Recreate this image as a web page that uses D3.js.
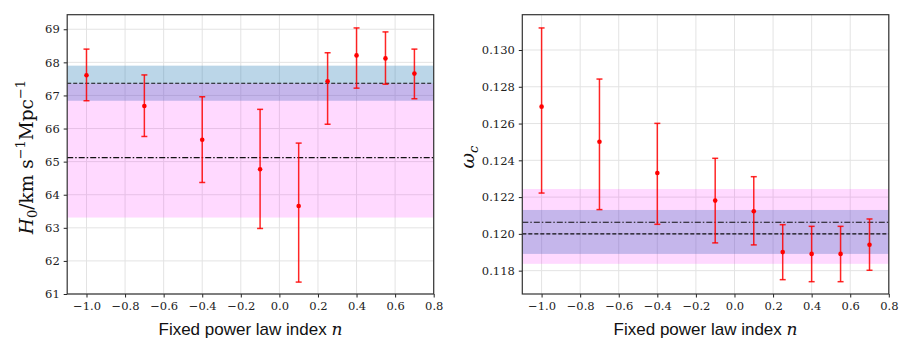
<!DOCTYPE html>
<html>
<head>
<meta charset="utf-8">
<script src="https://cdn.jsdelivr.net/npm/d3@7"></script>
<style>
  body { margin: 0; background: #fff; }
  svg { display: block; }
  .tick text { font-family: "DejaVu Serif", serif; font-size: 11.5px; fill: #222; }
  .xlab { font-family: "Liberation Sans", sans-serif; font-size: 17px; fill: #111; }
</style>
</head>
<body>
<div id="chart"></div>
<script>
// power law index values
var nIndex = [-1.0, -0.7, -0.4, -0.1, 0.1, 0.25, 0.4, 0.55, 0.7];

// H0 fits
var h0Val = [67.61, 66.68, 65.66, 64.77, 63.66, 67.43, 68.21, 68.12, 67.66];
var h0Hi  = [68.40, 67.62, 66.96, 66.58, 65.56, 68.29, 69.04, 68.92, 68.40];
var h0Lo  = [66.84, 65.76, 64.37, 62.98, 61.36, 66.13, 67.22, 67.34, 66.90];

// omega_c fits
var wcVal = [0.12692, 0.12501, 0.12331, 0.12181, 0.12123, 0.11901, 0.11891, 0.11891, 0.11941];
var wcHi  = [0.13120, 0.12842, 0.12601, 0.12411, 0.12311, 0.12050, 0.12041, 0.12041, 0.12081];
var wcLo  = [0.12222, 0.12132, 0.12052, 0.11951, 0.11940, 0.11751, 0.11740, 0.11740, 0.11802];

// reference bands [low, mid, high]
var h0Blue = [66.84, 67.37, 67.90];
var h0Pink = [63.31, 65.12, 67.36];
var wcBlue = [0.11891, 0.12000, 0.12130];
var wcPink = [0.11837, 0.12063, 0.12244];

var xTicks = [-1.0, -0.8, -0.6, -0.4, -0.2, 0.0, 0.2, 0.4, 0.6, 0.8];
var h0Ticks = [61, 62, 63, 64, 65, 66, 67, 68, 69];
var wcTicks = [0.118, 0.120, 0.122, 0.124, 0.126, 0.128, 0.130];

var W = 913, H = 355;
var svg = d3.select("#chart").append("svg").attr("width", W).attr("height", H);

function panel(opt) {
    var x = d3.scaleLinear().domain([-1.1, 0.8]).range([opt.left, opt.left + 366.5]);
    var y = d3.scaleLinear().domain(opt.ydom).range([294, 14.7]);
    var g = svg.append("g");

    // grid
    g.selectAll(".gx").data(xTicks).enter().append("line")
        .attr("x1", d => x(d)).attr("x2", d => x(d))
        .attr("y1", y.range()[0]).attr("y2", y.range()[1])
        .attr("stroke", "#e3e3e3").attr("stroke-width", 1);
    g.selectAll(".gy").data(opt.ticks).enter().append("line")
        .attr("x1", x.range()[0]).attr("x2", x.range()[1])
        .attr("y1", d => y(d)).attr("y2", d => y(d))
        .attr("stroke", "#e3e3e3").attr("stroke-width", 1);

    // bands
    g.append("rect")
        .attr("x", x.range()[0]).attr("width", x.range()[1] - x.range()[0])
        .attr("y", y(opt.blue[2])).attr("height", y(opt.blue[0]) - y(opt.blue[2]))
        .attr("fill", "#1f77b4").attr("fill-opacity", 0.3);
    g.append("rect")
        .attr("x", x.range()[0]).attr("width", x.range()[1] - x.range()[0])
        .attr("y", y(opt.pink[2])).attr("height", y(opt.pink[0]) - y(opt.pink[2]))
        .attr("fill", "#ff00ff").attr("fill-opacity", 0.15);

    // reference lines
    g.append("line")
        .attr("x1", x.range()[0]).attr("x2", x.range()[1])
        .attr("y1", y(opt.blue[1])).attr("y2", y(opt.blue[1]))
        .attr("stroke", "#111").attr("stroke-width", 1.1).attr("stroke-dasharray", "4,2");
    g.append("line")
        .attr("x1", x.range()[0]).attr("x2", x.range()[1])
        .attr("y1", y(opt.pink[1])).attr("y2", y(opt.pink[1]))
        .attr("stroke", "#111").attr("stroke-width", 1.1).attr("stroke-dasharray", "6,2,1.5,2");

    // error bars
    var eb = g.selectAll(".eb").data(nIndex).enter().append("g");
    eb.append("line")
        .attr("x1", d => x(d)).attr("x2", d => x(d))
        .attr("y1", (d, i) => y(opt.hi[i])).attr("y2", (d, i) => y(opt.lo[i]))
        .attr("stroke", "#ff0000").attr("stroke-width", 1.5).attr("stroke-opacity", 0.85);
    [opt.hi, opt.lo].forEach(arr => {
        eb.append("line")
            .attr("x1", d => x(d) - 3).attr("x2", d => x(d) + 3)
            .attr("y1", (d, i) => y(arr[i])).attr("y2", (d, i) => y(arr[i]))
            .attr("stroke", "#ff0000").attr("stroke-width", 1.5).attr("stroke-opacity", 0.85);
    });
    eb.append("circle")
        .attr("cx", d => x(d)).attr("cy", (d, i) => y(opt.val[i]))
        .attr("r", 2.3).attr("fill", "#ff0000");

    // axes
    g.append("g").attr("transform", "translate(0," + y.range()[0] + ")")
        .call(d3.axisBottom(x).tickValues(xTicks).tickFormat(d3.format(".1f")).tickSize(3.5).tickPadding(4))
        .call(a => a.select(".domain").remove());
    g.append("g").attr("transform", "translate(" + x.range()[0] + ",0)")
        .call(d3.axisLeft(y).tickValues(opt.ticks).tickFormat(d3.format(opt.fmt)).tickSize(3.5).tickPadding(4))
        .call(a => a.select(".domain").remove());
    g.selectAll(".tick line").attr("stroke", "#222");

    // frame
    g.append("rect")
        .attr("x", x.range()[0]).attr("y", y.range()[1])
        .attr("width", x.range()[1] - x.range()[0]).attr("height", y.range()[0] - y.range()[1])
        .attr("fill", "none").attr("stroke", "#333").attr("stroke-width", 1.2);

    // x label
    var xl = g.append("text").attr("class", "xlab")
        .attr("x", (x.range()[0] + x.range()[1]) / 2).attr("y", 334.5)
        .attr("text-anchor", "middle");
    xl.append("tspan").text("Fixed power law index ");
    xl.append("tspan").attr("font-family", "DejaVu Serif, serif").attr("font-style", "italic").text("n");
    return g;
}

var left = panel({
    left: 67.2, ydom: [61, 69.44], ticks: h0Ticks, fmt: "d",
    val: h0Val, hi: h0Hi, lo: h0Lo, blue: h0Blue, pink: h0Pink
});
var right = panel({
    left: 522.3, ydom: [0.11673, 0.13192], ticks: wcTicks, fmt: ".3f",
    val: wcVal, hi: wcHi, lo: wcLo, blue: wcBlue, pink: wcPink
});

// y labels
var yl = left.append("text")
    .attr("transform", "translate(33,157) rotate(-90)")
    .attr("text-anchor", "middle")
    .attr("font-family", "DejaVu Serif, serif").attr("font-size", 18.5).attr("fill", "#111");
yl.append("tspan").attr("font-style", "italic").text("H");
yl.append("tspan").attr("font-size", 13).attr("dy", 4).text("0");
yl.append("tspan").attr("dy", -4).text("/km s");
yl.append("tspan").attr("font-size", 13).attr("dy", -8).text("−1");
yl.append("tspan").attr("dy", 8).text("Mpc");
yl.append("tspan").attr("font-size", 13).attr("dy", -8).text("−1");

var yr = right.append("text")
    .attr("transform", "translate(474,157) rotate(-90)")
    .attr("text-anchor", "middle")
    .attr("font-family", "DejaVu Serif, serif").attr("font-size", 19).attr("fill", "#111");
yr.append("tspan").attr("font-style", "italic").text("ω");
yr.append("tspan").attr("font-style", "italic").attr("font-size", 13).attr("dy", 4).text("c");
</script>
</body>
</html>
